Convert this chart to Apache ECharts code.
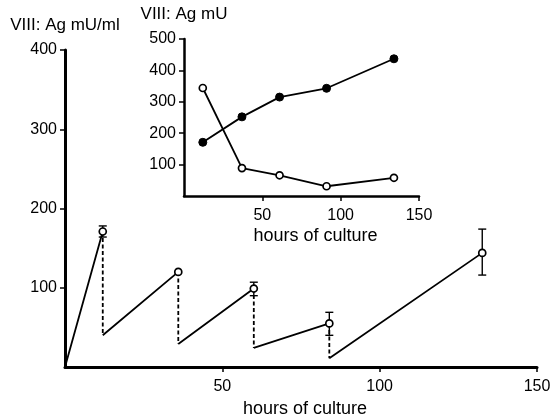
<!DOCTYPE html>
<html>
<head>
<meta charset="utf-8">
<script src="https://cdn.jsdelivr.net/npm/echarts@6/dist/echarts.min.js"></script>
<style>
  html, body { margin: 0; padding: 0; background: #fff; }
  #chart { width: 552px; height: 419px; }
</style>
</head>
<body>
<div id="chart"></div>
<script>
// main chart: sawtooth of VIII:Ag activity (peaks before each medium change)
const peakHours = [12, 36, 60, 84, 132.6]
const peakValues = [171, 120, 99, 55, 144]
const troughValues = [40, 29, 24, 11]       // value right after each change
const errLow = [164, null, 90, 40, 116]
const errHigh = [178, null, 107, 69, 174]

// inset: VIII:Ag mU
const insetHours = [12, 37, 61, 91, 134]
const insetOpen = [344, 89, 66, 31, 58]
const insetFilled = [171, 252, 315, 343, 437]

const mainXTicks = [50, 100, 150]
const mainYTicks = [100, 200, 300, 400]
const insetXTicks = [50, 100, 150]
const insetYTicks = [100, 200, 300, 400, 500]

const FONT = 'Liberation Sans, Arial, Helvetica, sans-serif'

// solid rising segments, broken at each change
const solidData = [[0, 0], [peakHours[0], peakValues[0]]]
const dashData = []
for (let i = 0; i < troughValues.length; i++) {
  solidData.push([peakHours[i], '-'])
  solidData.push([peakHours[i], troughValues[i]])
  solidData.push([peakHours[i + 1], peakValues[i + 1]])
  dashData.push([peakHours[i], peakValues[i]])
  dashData.push([peakHours[i], troughValues[i]])
  dashData.push([peakHours[i], '-'])
}

const errData = []
peakHours.forEach((h, i) => {
  if (errLow[i] != null) errData.push([h, errLow[i], errHigh[i]])
})

function axisX(gridIndex, ticks, name, nameGap, lineW, margin, pad) {
  return {
    type: 'value', gridIndex, min: 0, max: 150, interval: 50,
    splitLine: { show: false },
    axisLine: { lineStyle: { color: '#000', width: lineW } },
    axisTick: { customValues: ticks, length: 5, lineStyle: { color: '#000', width: 1.5 } },
    axisLabel: { customValues: ticks, color: '#000', fontSize: 16, fontFamily: FONT, margin },
    name, nameLocation: 'middle', nameGap,
    nameTextStyle: { color: '#000', fontSize: 18, fontFamily: FONT, padding: pad }
  }
}

function axisY(gridIndex, max, ticks, name, lineW) {
  return {
    type: 'value', gridIndex, min: 0, max, interval: 100,
    splitLine: { show: false },
    axisLine: { show: true, lineStyle: { color: '#000', width: lineW } },
    axisTick: { show: true, customValues: ticks, length: 5, lineStyle: { color: '#000', width: 1.5 } },
    axisLabel: { customValues: ticks, color: '#000', fontSize: 16, fontFamily: FONT, margin: 8 },
    name, nameLocation: 'end', nameGap: 16,
    nameTextStyle: { color: '#000', fontSize: 17, fontFamily: FONT, align: 'center' }
  }
}

const chart = echarts.init(document.getElementById('chart'), null, { renderer: 'canvas' })

const option = {
  backgroundColor: '#fff',
  animation: false,
  grid: [
    { left: 65, right: 15, top: 50, bottom: 52, outerBoundsMode: 'none', containLabel: false },
    { left: 184, right: 133, top: 39, bottom: 223, outerBoundsMode: 'none', containLabel: false }
  ],
  xAxis: [
    axisX(0, mainXTicks, 'hours of culture', 33, 3, 12, [0, 0, 0, 8]),
    axisX(1, insetXTicks, 'hours of culture', 31, 2.5, 12, [0, 0, 0, 28])
  ],
  yAxis: [
    axisY(0, 400, mainYTicks, 'VIII: Ag mU/ml', 3),
    axisY(1, 500, insetYTicks, 'VIII: Ag mU', 2.5)
  ],
  series: [
    {
      type: 'line', xAxisIndex: 0, yAxisIndex: 0, data: solidData,
      showSymbol: false, connectNulls: false,
      lineStyle: { color: '#000', width: 1.8 }
    },
    {
      type: 'line', xAxisIndex: 0, yAxisIndex: 0, data: dashData,
      showSymbol: false, connectNulls: false,
      lineStyle: { color: '#000', width: 1.8, type: [4, 2.5] }
    },
    {
      type: 'custom', xAxisIndex: 0, yAxisIndex: 0, data: errData, z: 3,
      renderItem(params, api) {
        const lo = api.coord([api.value(0), api.value(1)])
        const hi = api.coord([api.value(0), api.value(2)])
        const w = 4
        const st = { stroke: '#000', lineWidth: 1.4 }
        return {
          type: 'group',
          children: [
            { type: 'line', shape: { x1: lo[0], y1: lo[1], x2: hi[0], y2: hi[1] }, style: st },
            { type: 'line', shape: { x1: lo[0] - w, y1: lo[1], x2: lo[0] + w, y2: lo[1] }, style: st },
            { type: 'line', shape: { x1: hi[0] - w, y1: hi[1], x2: hi[0] + w, y2: hi[1] }, style: st }
          ]
        }
      }
    },
    {
      type: 'scatter', xAxisIndex: 0, yAxisIndex: 0, z: 5,
      data: peakHours.map((h, i) => [h, peakValues[i]]),
      symbol: 'circle', symbolSize: 7,
      itemStyle: { color: '#fff', borderColor: '#000', borderWidth: 1.7, opacity: 1 }
    },
    {
      type: 'line', xAxisIndex: 1, yAxisIndex: 1, z: 4,
      data: insetHours.map((h, i) => [h, insetOpen[i]]),
      symbol: 'circle', symbolSize: 7, showSymbol: true,
      lineStyle: { color: '#000', width: 1.8 },
      itemStyle: { color: '#fff', borderColor: '#000', borderWidth: 1.7 }
    },
    {
      type: 'line', xAxisIndex: 1, yAxisIndex: 1, z: 4,
      data: insetHours.map((h, i) => [h, insetFilled[i]]),
      symbol: 'circle', symbolSize: 8, showSymbol: true,
      lineStyle: { color: '#000', width: 1.8 },
      itemStyle: { color: '#000', borderColor: '#000', borderWidth: 1 }
    }
  ]
}

chart.setOption(option)
</script>
</body>
</html>
